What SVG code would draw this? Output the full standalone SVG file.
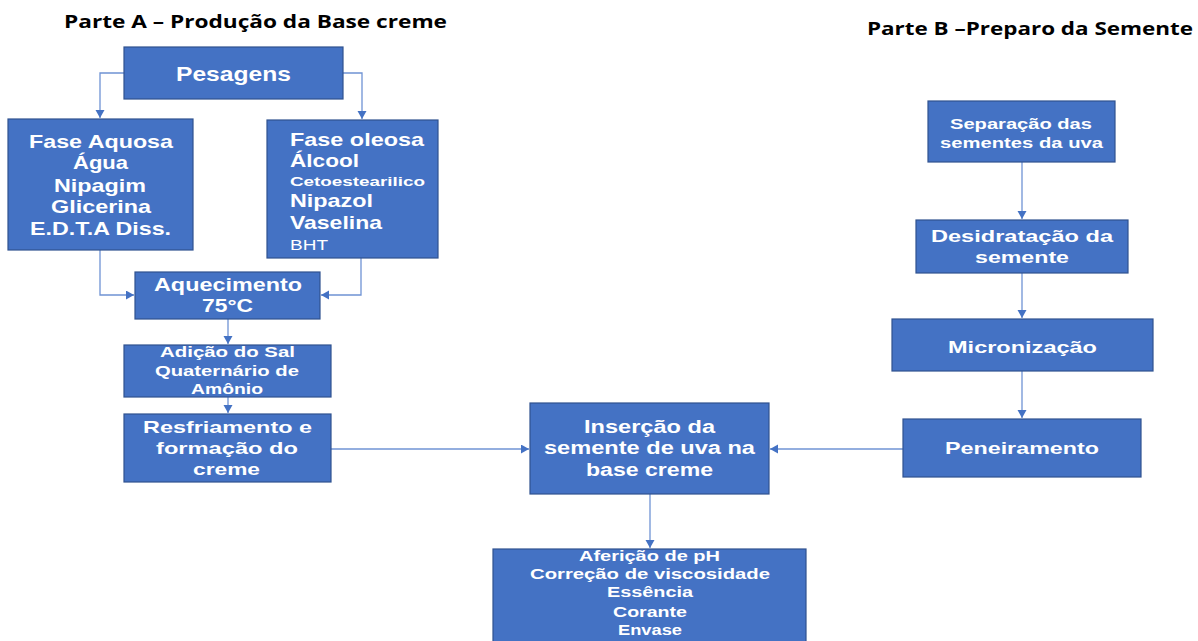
<svg xmlns="http://www.w3.org/2000/svg" width="1198" height="641" viewBox="0 0 1198 641">
<defs>
<marker id="ah" markerUnits="userSpaceOnUse" markerWidth="10" markerHeight="10" refX="8" refY="4.5" orient="auto">
<path d="M0,0 L8,4.5 L0,9 Z" fill="#4472C4"/>
</marker>
<style>
.box{fill:#4472C4;stroke:#2F528F;stroke-width:1.2}
.t{font-family:"Liberation Sans",Arial,sans-serif;font-weight:bold;fill:#FFFFFF;text-anchor:middle}
.tl{font-family:"Liberation Sans",Arial,sans-serif;font-weight:bold;fill:#FFFFFF;text-anchor:start}
.tn{font-family:"Liberation Sans",Arial,sans-serif;font-weight:normal;fill:#FFFFFF;text-anchor:start}
.title{font-family:"Open Sans","Liberation Sans",sans-serif;font-weight:bold;fill:#000000;font-size:18px}
.c{fill:none;stroke:#6F93D4;stroke-width:1.3}
</style>
</defs>
<rect width="1198" height="641" fill="#FFFFFF"/>
<text class="title" x="64" y="28" textLength="383" lengthAdjust="spacingAndGlyphs">Parte A – Produção da Base creme</text>
<text class="title" x="867" y="35" textLength="326" lengthAdjust="spacingAndGlyphs">Parte B –Preparo da Semente</text>

<g id="connectors">
<path class="c" d="M124,73 H100 V118" marker-end="url(#ah)"/>
<path class="c" d="M343,73 H362 V119" marker-end="url(#ah)"/>
<path class="c" d="M100,250 V295 H134" marker-end="url(#ah)"/>
<path class="c" d="M361,258 V295 H321" marker-end="url(#ah)"/>
<path class="c" d="M228,319 V344" marker-end="url(#ah)"/>
<path class="c" d="M228,397 V413" marker-end="url(#ah)"/>
<path class="c" d="M331,449 H529" marker-end="url(#ah)"/>
<path class="c" d="M903,449 H770" marker-end="url(#ah)"/>
<path class="c" d="M650,494 V548" marker-end="url(#ah)"/>
<path class="c" d="M1022,162 V219" marker-end="url(#ah)"/>
<path class="c" d="M1022,273 V318" marker-end="url(#ah)"/>
<path class="c" d="M1022,371 V418" marker-end="url(#ah)"/>
</g>

<g id="pesagens">
<rect class="box" x="124" y="47" width="219" height="52"/>
<text class="t" x="233.5" y="81" font-size="21" textLength="115" lengthAdjust="spacingAndGlyphs">Pesagens</text>
</g>

<g id="fase-aquosa">
<rect class="box" x="8" y="119" width="185" height="131"/>
<text class="t" x="101" y="148" font-size="19" textLength="144" lengthAdjust="spacingAndGlyphs">Fase Aquosa</text>
<text class="t" x="100.5" y="169" font-size="19" textLength="55" lengthAdjust="spacingAndGlyphs">Água</text>
<text class="t" x="100" y="192" font-size="19" textLength="92" lengthAdjust="spacingAndGlyphs">Nipagim</text>
<text class="t" x="101" y="213" font-size="19" textLength="100" lengthAdjust="spacingAndGlyphs">Glicerina</text>
<text class="t" x="100.5" y="235" font-size="19" textLength="141" lengthAdjust="spacingAndGlyphs">E.D.T.A Diss.</text>
</g>

<g id="fase-oleosa">
<rect class="box" x="267" y="120" width="171" height="138"/>
<text class="tl" x="290" y="146" font-size="19" textLength="134" lengthAdjust="spacingAndGlyphs">Fase oleosa</text>
<text class="tl" x="290" y="167" font-size="19" textLength="69" lengthAdjust="spacingAndGlyphs">Álcool</text>
<text class="tl" x="290" y="186" font-size="13" textLength="135" lengthAdjust="spacingAndGlyphs">Cetoestearilico</text>
<text class="tl" x="290" y="207" font-size="19" textLength="83" lengthAdjust="spacingAndGlyphs">Nipazol</text>
<text class="tl" x="290" y="229" font-size="19" textLength="92" lengthAdjust="spacingAndGlyphs">Vaselina</text>
<text class="tn" x="290" y="250" font-size="15" textLength="38" lengthAdjust="spacingAndGlyphs">BHT</text>
</g>

<g id="aquecimento">
<rect class="box" x="135" y="272" width="185" height="47"/>
<text class="t" x="228" y="291" font-size="19" textLength="148" lengthAdjust="spacingAndGlyphs">Aquecimento</text>
<text class="t" x="227.5" y="312" font-size="19" textLength="51" lengthAdjust="spacingAndGlyphs">75°C</text>
</g>

<g id="adicao">
<rect class="box" x="124" y="345" width="207" height="52"/>
<text class="t" x="227.5" y="357" font-size="15" textLength="135" lengthAdjust="spacingAndGlyphs">Adição do Sal</text>
<text class="t" x="227" y="376" font-size="15" textLength="144" lengthAdjust="spacingAndGlyphs">Quaternário de</text>
<text class="t" x="227" y="394" font-size="15" textLength="72" lengthAdjust="spacingAndGlyphs">Amônio</text>
</g>

<g id="resfriamento">
<rect class="box" x="124" y="414" width="207" height="68"/>
<text class="t" x="227.5" y="433" font-size="17" textLength="169" lengthAdjust="spacingAndGlyphs">Resfriamento e</text>
<text class="t" x="227" y="454" font-size="17" textLength="142" lengthAdjust="spacingAndGlyphs">formação do</text>
<text class="t" x="226.5" y="475" font-size="17" textLength="67" lengthAdjust="spacingAndGlyphs">creme</text>
</g>

<g id="insercao">
<rect class="box" x="530" y="403" width="239" height="91"/>
<text class="t" x="649.5" y="433" font-size="18" textLength="131" lengthAdjust="spacingAndGlyphs">Inserção da</text>
<text class="t" x="649.5" y="454" font-size="18" textLength="211" lengthAdjust="spacingAndGlyphs">semente de uva na</text>
<text class="t" x="649.5" y="476" font-size="18" textLength="127" lengthAdjust="spacingAndGlyphs">base creme</text>
</g>

<g id="afericao">
<rect class="box" x="493" y="549" width="313" height="100"/>
<text class="t" x="649.5" y="561" font-size="14" textLength="141" lengthAdjust="spacingAndGlyphs">Aferição de pH</text>
<text class="t" x="650" y="579" font-size="14" textLength="240" lengthAdjust="spacingAndGlyphs">Correção de viscosidade</text>
<text class="t" x="650" y="597" font-size="14" textLength="86" lengthAdjust="spacingAndGlyphs">Essência</text>
<text class="t" x="650" y="617" font-size="14" textLength="74" lengthAdjust="spacingAndGlyphs">Corante</text>
<text class="t" x="650" y="635" font-size="14" textLength="64" lengthAdjust="spacingAndGlyphs">Envase</text>
</g>

<g id="separacao">
<rect class="box" x="928" y="101" width="187" height="61"/>
<text class="t" x="1021" y="129" font-size="15" textLength="142" lengthAdjust="spacingAndGlyphs">Separação das</text>
<text class="t" x="1021.5" y="148" font-size="15" textLength="163" lengthAdjust="spacingAndGlyphs">sementes da uva</text>
</g>

<g id="desidratacao">
<rect class="box" x="916" y="220" width="212" height="53"/>
<text class="t" x="1022" y="242" font-size="17" textLength="182" lengthAdjust="spacingAndGlyphs">Desidratação da</text>
<text class="t" x="1022" y="263" font-size="17" textLength="94" lengthAdjust="spacingAndGlyphs">semente</text>
</g>

<g id="micronizacao">
<rect class="box" x="892" y="319" width="261" height="52"/>
<text class="t" x="1022.5" y="353" font-size="17" textLength="149" lengthAdjust="spacingAndGlyphs">Micronização</text>
</g>

<g id="peneiramento">
<rect class="box" x="903" y="419" width="238" height="58"/>
<text class="t" x="1022" y="454" font-size="17" textLength="154" lengthAdjust="spacingAndGlyphs">Peneiramento</text>
</g>
</svg>
